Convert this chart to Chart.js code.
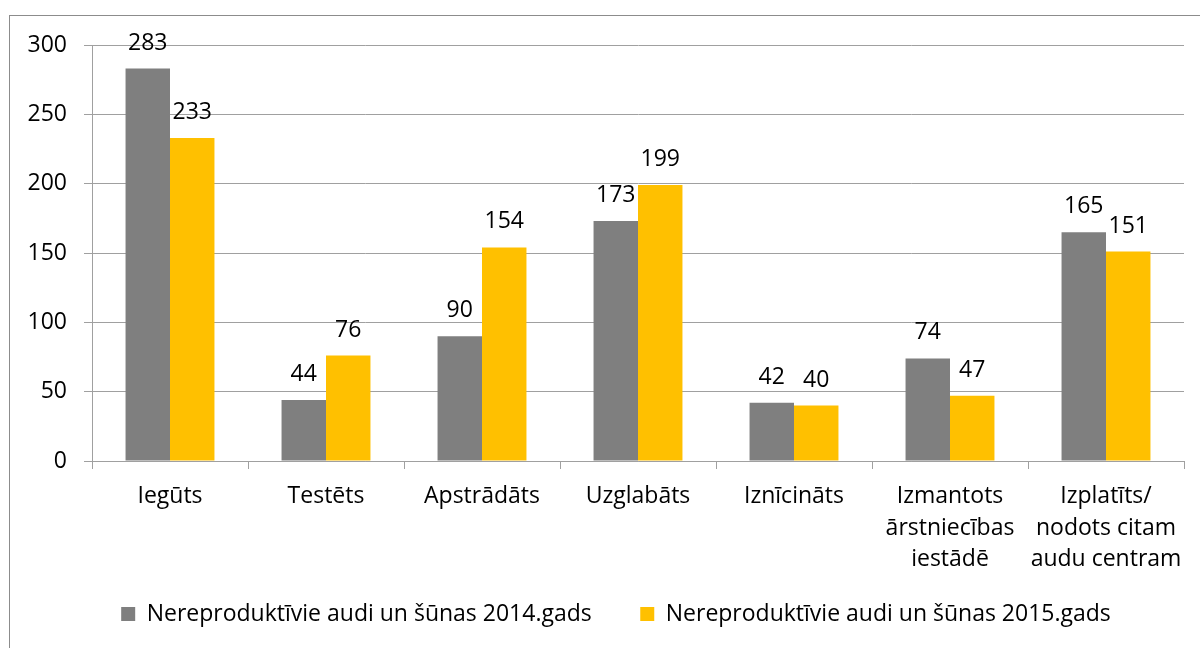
<!DOCTYPE html>
<html>
<head>
<meta charset="utf-8">
<script src="https://cdn.jsdelivr.net/npm/chart.js@4"></script>
<style>
    html, body { margin: 0; padding: 0; background: #fff; overflow: hidden; }
    #wrap { position: relative; width: 1200px; height: 648px; }
    #frame { position: absolute; left: 9px; top: 15px; width: 1300px; height: 800px; border: 1px solid #8c8c8c; }
    #chart { position: absolute; left: 0; top: 0; }
</style>
</head>
<body>
<div id="wrap">
    <div id="frame"></div>
    <canvas id="chart" width="1200" height="648"></canvas>
</div>
<script>
const categories = [
    'Iegūts',
    'Testēts',
    'Apstrādāts',
    'Uzglabāts',
    'Iznīcināts',
    ['Izmantots', 'ārstniecības', 'iestādē'],
    ['Izplatīts/', 'nodots citam', 'audu centram']
];
const values2014 = [283, 44, 90, 173, 42, 74, 165];
const values2015 = [233, 76, 154, 199, 40, 47, 151];
const yTicks = [0, 50, 100, 150, 200, 250, 300];
const seriesNames = [
    'Nereproduktīvie audi un šūnas 2014.gads',
    'Nereproduktīvie audi un šūnas 2015.gads'
];

const COLORS = {
    grey: '#7f7f7f',
    yellow: '#ffc000',
    line: '#a0a0a0'
};

const FONT = "'Open Sans'";
const FONT_SIZE = 23;

// value labels above each bar
const barLabels = {
    id: 'barLabels',
    afterDatasetsDraw(chart) {
        const ctx = chart.ctx;
        ctx.save();
        ctx.font = FONT_SIZE + 'px ' + FONT;
        ctx.fillStyle = '#000';
        ctx.textAlign = 'center';
        ctx.textBaseline = 'alphabetic';
        chart.data.datasets.forEach((ds, i) => {
            chart.getDatasetMeta(i).data.forEach((bar, j) => {
                ctx.fillText(ds.data[j], bar.x, bar.y - 19);
            });
        });
        ctx.restore();
    }
};

const data = {
    labels: categories,
    datasets: [
        {
            // trailing spaces widen the gap between the two legend items
            label: seriesNames[0] + '\u2003',
            data: values2014,
            backgroundColor: COLORS.grey,
            barPercentage: 1,
            categoryPercentage: 0.57
        },
        {
            label: seriesNames[1],
            data: values2015,
            backgroundColor: COLORS.yellow,
            barPercentage: 1,
            categoryPercentage: 0.57
        }
    ]
};

const options = {
    responsive: false,
    animation: false,
    layout: {
        padding: { left: 24, right: -8, top: 45, bottom: 12.5 }
    },
    plugins: {
        legend: {
            position: 'bottom',
            labels: {
                boxWidth: 14,
                boxHeight: 14,
                padding: 25.5,
                color: '#000',
                font: { family: FONT, size: FONT_SIZE }
            }
        },
        tooltip: { enabled: false }
    },
    scales: {
        x: {
            grid: {
                offset: true,
                drawOnChartArea: false,
                drawTicks: true,
                tickLength: 8,
                color: COLORS.line
            },
            border: { color: COLORS.line },
            ticks: {
                color: '#000',
                padding: 11,
                maxRotation: 0,
                autoSkip: false,
                font: { family: FONT, size: FONT_SIZE, lineHeight: 1.39 }
            },
            afterFit(scale) { scale.height = 116; }
        },
        y: {
            min: 0,
            max: 300,
            afterBuildTicks(scale) {
                scale.ticks = yTicks.map(v => ({ value: v }));
            },
            grid: {
                color: COLORS.line,
                tickLength: 8
            },
            border: { color: COLORS.line },
            ticks: {
                color: '#000',
                padding: 17,
                font: { family: FONT, size: FONT_SIZE }
            },
            afterFit(scale) { scale.width = 68; }
        },
        // empty right axis, only keeps the plot off the right edge
        yRight: {
            position: 'right',
            grid: { display: false },
            border: { display: false },
            ticks: { display: false },
            afterFit(scale) { scale.width = 24; }
        }
    }
};

const config = {
    type: 'bar',
    data: data,
    options: options,
    plugins: [barLabels]
};

const main_chart = new Chart(document.getElementById('chart'), config);
</script>
</body>
</html>
